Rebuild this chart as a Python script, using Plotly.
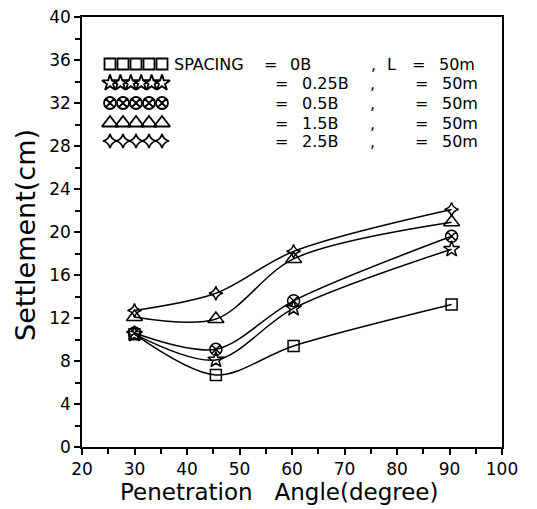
import plotly.graph_objects as go

# ---- data ----
angles = [30, 45.5, 60.3, 90.4]
s_0B = [10.5, 6.7, 9.4, 13.25]
s_025B = [10.5, 8.1, 12.9, 18.4]
s_05B = [10.6, 9.1, 13.6, 19.6]
s_15B = [12.1, 11.9, 17.5, 20.9]
s_25B = [12.7, 14.3, 18.2, 22.1]
spacing_labels = ["0B", "0.25B", "0.5B", "1.5B", "2.5B"]
pile_lengths = ["50m", "50m", "50m", "50m", "50m"]
x_ticks = list(range(20, 101, 10))
y_ticks = list(range(0, 41, 4))

series = [s_0B, s_025B, s_05B, s_15B, s_25B]
symbols = ["square-open", "star-open", "circle-x-open", "triangle-up-open", "star-diamond-open"]
sizes = [11, 12, 12, 14, 10]
n_samples = [5, 6, 5, 5, 5]

FONT = "DejaVu Sans"
fig = go.Figure()

for vals, sym, sz in zip(series, symbols, sizes):
    fig.add_trace(go.Scatter(
        x=angles, y=vals, mode="lines+markers",
        line=dict(color="black", width=1.5, shape="spline", smoothing=0.9),
        marker=dict(symbol=sym, size=sz, color="black", line=dict(color="black", width=1.5)),
        showlegend=False, cliponaxis=False,
    ))

# legend samples on a pixel-like overlay axis (plot area 420 x 430 px)
row_y = [47, 66, 86, 106, 124]
for i, (sym, sz, n) in enumerate(zip(symbols, sizes, n_samples)):
    step = 52.0 / (n - 1)
    fig.add_trace(go.Scatter(
        x=[28 + k * step for k in range(n)], y=[row_y[i]] * n,
        xaxis="x2", yaxis="y2", mode="markers",
        marker=dict(symbol=sym, size=sz, color="black", line=dict(color="black", width=1.8)),
        showlegend=False, hoverinfo="skip",
    ))

ann = []
def txt(x, y, t, anchor="left", size=16):
    ann.append(dict(x=x, y=y, xref="x2", yref="y2", text=t, showarrow=False,
                    xanchor=anchor, yanchor="middle", font=dict(family=FONT, size=size, color="black")))

for i, (lab, L) in enumerate(zip(spacing_labels, pile_lengths)):
    y = row_y[i]
    if i == 0:
        txt(90, y, "SPACING")
        txt(188, y, "=", "center")
        txt(206, y, lab)
        txt(291, y, ",", "center")
        txt(303, y, "L")
        txt(336, y, "=", "center")
        txt(355, y, L)
    else:
        txt(199, y, "=", "center")
        txt(218, y, lab)
        txt(290, y, ",", "center")
        txt(339, y, "=", "center")
        txt(358, y, L)

# axis titles (paper coordinates)
ann.append(dict(x=-0.136, y=0.493, xref="paper", yref="paper", text="Settlement(cm)", showarrow=False,
                xanchor="center", yanchor="middle", textangle=-90,
                font=dict(family=FONT, size=27, color="black")))
ann.append(dict(x=0.471, y=-0.105, xref="paper", yref="paper", text="Penetration   Angle(degree)",
                showarrow=False, xanchor="center", yanchor="middle",
                font=dict(family=FONT, size=23, color="black")))

fig.update_layout(
    width=537, height=509,
    margin=dict(l=74, r=43, t=9, b=70),
    paper_bgcolor="white", plot_bgcolor="white",
    annotations=ann,
    xaxis=dict(range=[20, 100], tickvals=x_ticks, ticks="outside", ticklen=6, tickwidth=1.5,
               tickcolor="black", showline=True, linecolor="black", linewidth=1.5, mirror=True,
               showgrid=False, zeroline=False, automargin=False, ticklabeloverflow="allow",
               minor=dict(dtick=5, ticks="outside", ticklen=5, tickwidth=1.5, tickcolor="black"),
               tickfont=dict(family=FONT, size=17, color="black")),
    yaxis=dict(range=[0, 40], tickvals=y_ticks, ticks="outside", ticklen=6, tickwidth=1.5,
               tickcolor="black", showline=True, linecolor="black", linewidth=1.5, mirror=True,
               showgrid=False, zeroline=False, automargin=False, ticklabeloverflow="allow",
               minor=dict(dtick=2, ticks="outside", ticklen=5, tickwidth=1.5, tickcolor="black"),
               tickfont=dict(family=FONT, size=17, color="black")),
    xaxis2=dict(domain=[0, 1], range=[0, 420], overlaying="x", anchor="y2", visible=False,
                fixedrange=True, automargin=False),
    yaxis2=dict(domain=[0, 1], range=[430, 0], overlaying="y", anchor="x2", visible=False,
                fixedrange=True, automargin=False),
)

fig.write_html("out.html")
